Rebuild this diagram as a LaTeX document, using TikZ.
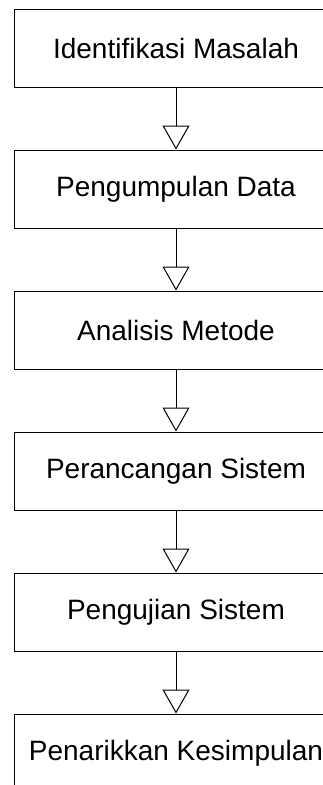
\documentclass[tikz,border=0pt]{standalone}
\usepackage{fontspec}
\setmainfont{Liberation Sans}
\usetikzlibrary{positioning,arrows.meta}

\begin{document}
\begin{tikzpicture}[x=1pt,y=1pt,
        kotak/.style={draw,line width=1pt,minimum width=324pt,minimum height=78pt,inner sep=0pt,font=\fontsize{28}{34}\selectfont},
        panah/.style={-{Triangle[open,width=27pt,length=24pt]},line width=1pt}]
        \useasboundingbox (0,0) rectangle (323,-785);
        \node[kotak] (idm) at (176,-48) {Identifikasi Masalah};
        \node[kotak,below=62pt of idm] (pd) {Pengumpulan Data};
        \node[kotak,below=62pt of pd] (am) {Analisis Metode};
        \node[kotak,below=62pt of am] (ps) {Perancangan Sistem};
        \node[kotak,below=62pt of ps] (pjs) {Pengujian Sistem};
        \node[kotak,below=62pt of pjs] (pk) {Penarikkan Kesimpulan};
        % alur
        \draw[panah] (idm) -- (pd);
        \draw[panah] (pd) -- (am);
        \draw[panah] (am) -- (ps);
        \draw[panah] (ps) -- (pjs);
        \draw[panah] (pjs) -- (pk);
    \end{tikzpicture}
\end{document}
